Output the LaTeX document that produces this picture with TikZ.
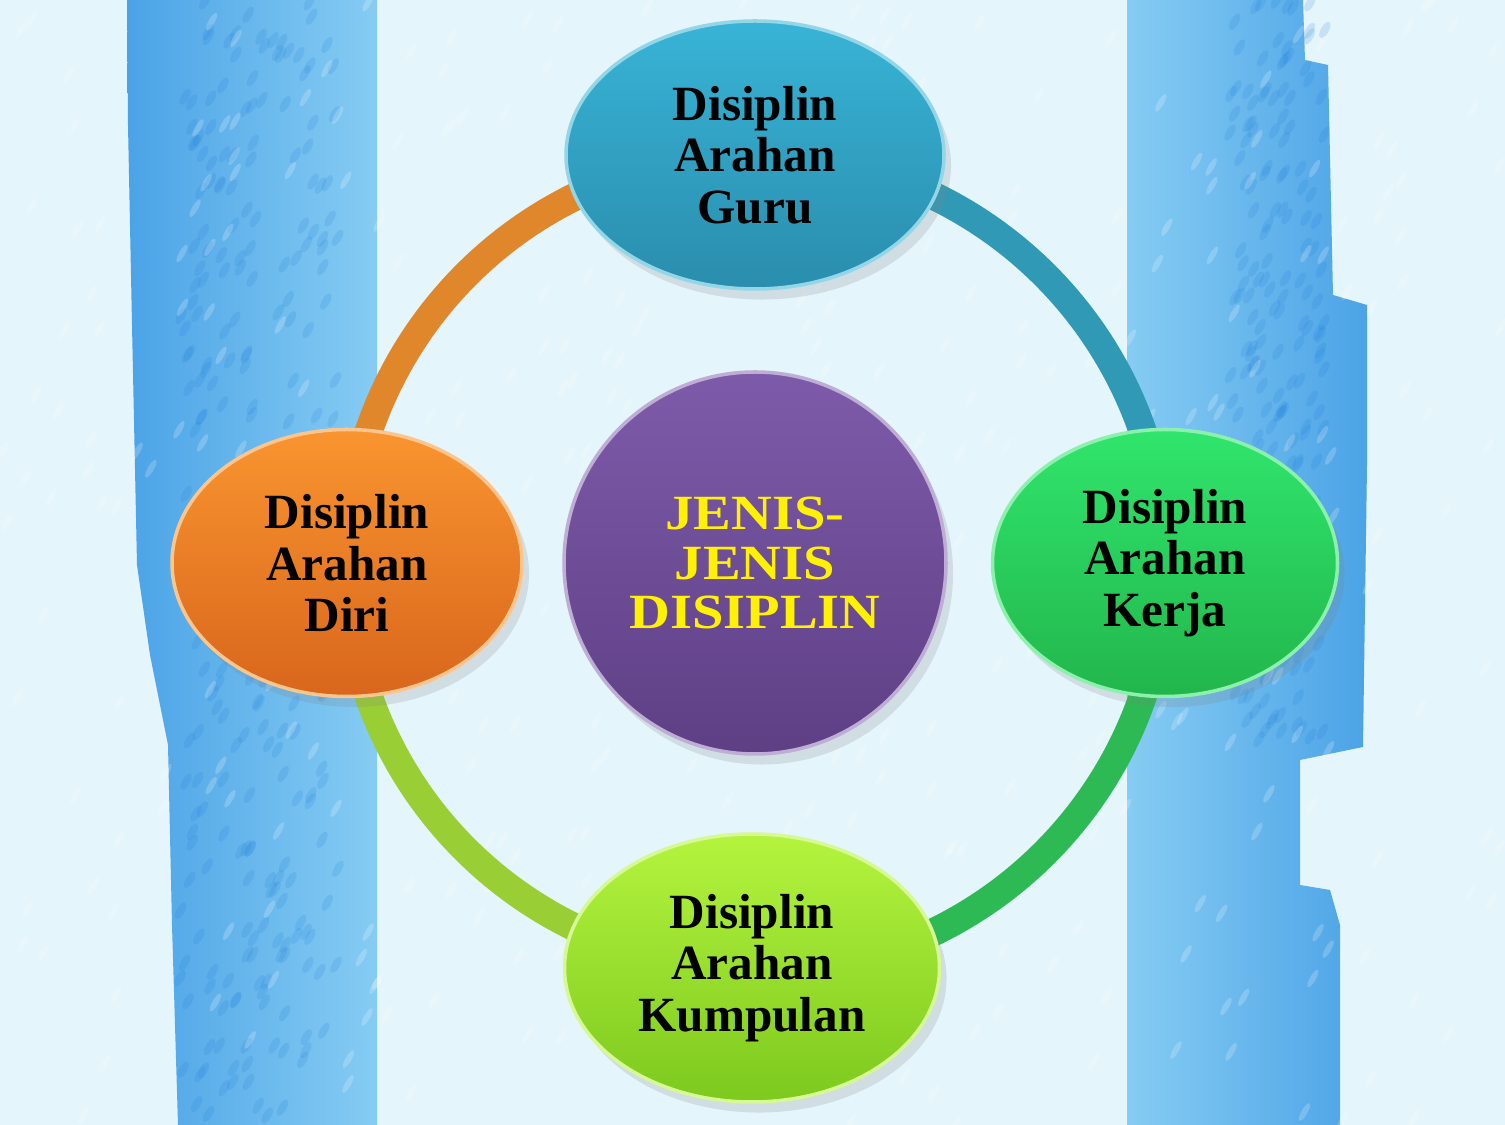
\documentclass[tikz,border=0pt]{standalone}
\usepackage{fontspec}
\setmainfont{Liberation Serif}
\newfontfamily\hubfont[FakeStretch=1.15]{Liberation Serif}
\usetikzlibrary{shapes.geometric,shadows}
\definecolor{skybg}{HTML}{E4F5FB}
\definecolor{bandlo}{HTML}{4BA3E6}
\definecolor{bandhi}{HTML}{86CCF3}
\definecolor{bandspot}{HTML}{1F7ED8}
\definecolor{gurutop}{HTML}{38B4D6}
\definecolor{gurubot}{HTML}{2A8DAD}
\definecolor{kerjatop}{HTML}{30E56C}
\definecolor{kerjabot}{HTML}{22B64C}
\definecolor{kumptop}{HTML}{B4F43E}
\definecolor{kumpbot}{HTML}{7DC91E}
\definecolor{diritop}{HTML}{F99530}
\definecolor{diribot}{HTML}{D9661C}
\definecolor{jenistop}{HTML}{7E5BAA}
\definecolor{jenisbot}{HTML}{5E3F84}
\pgfdeclarelayer{bg}
\pgfdeclarelayer{ring}
\pgfsetlayers{bg,ring,main}

\begin{document}
\begin{tikzpicture}[
        x=0.1mm, y=0.1mm,
        bubble/.style 2 args={ellipse, inner sep=0pt, align=center,
            top color=#1, bottom color=#2, draw=#1!55!white, line width=1pt,
            drop shadow={opacity=0.2, shadow xshift=2pt, shadow yshift=-3pt},
            font=\fontsize{14}{14.7}\selectfont\bfseries, text=black},
        hub/.style={circle, inner sep=0pt, minimum size=3.82cm, align=center,
            top color=jenistop, bottom color=jenisbot, draw=jenistop!50!white, line width=1pt,
            drop shadow={opacity=0.2, shadow xshift=2pt, shadow yshift=-3pt},
            font=\hubfont\fontsize{14}{14.2}\selectfont\bfseries, text=yellow},
        ringarc/.style={line width=2.8mm, draw=#1}
    ]

    \useasboundingbox (0,0) rectangle (1505,1125);

    % background with the two painted bands
    \begin{pgfonlayer}{bg}
    \fill[skybg] (0,0) rectangle (1505,1125);
    \shade[left color=bandlo, right color=bandhi]
        (127,1125) -- (377,1125) -- (377,0) -- (178,0) -- (172,200) -- (168,380)
        -- (150,470) -- (137,560) -- (132,800) -- (128,1000) -- cycle;
    \shade[left color=bandhi, right color=bandlo]
        (1127,1125) -- (1303,1125) -- (1305,1065) -- (1328,1060) -- (1333,830) -- (1367,820)
        -- (1367,660) -- (1363,378) -- (1300,365) -- (1300,240) -- (1330,235) -- (1340,200)
        -- (1340,0) -- (1127,0) -- cycle;
    \pgfmathsetseed{7}
    \foreach \i in {1,...,260} {
        \pgfmathsetmacro\px{180+160*rnd}
        \pgfmathsetmacro\py{1125*rnd}
        \fill[bandspot, opacity=0.16, rotate around={60:(\px,\py)}] (\px,\py) ellipse[x radius=9, y radius=4];
    }
    \foreach \i in {1,...,200} {
        \pgfmathsetmacro\px{1230+95*rnd}
        \pgfmathsetmacro\py{380+745*rnd}
        \fill[bandspot, opacity=0.16, rotate around={60:(\px,\py)}] (\px,\py) ellipse[x radius=9, y radius=4];
    }
    \foreach \i in {1,...,400} {
        \pgfmathsetmacro\px{1505*rnd}
        \pgfmathsetmacro\py{1125*rnd}
        \fill[white, opacity=0.2, rotate around={60:(\px,\py)}] (\px,\py) ellipse[x radius=10, y radius=3];
    }
    \end{pgfonlayer}

    % nodes
    \node[hub] (jenis) at (755,562) {JENIS-\\JENIS\\DISIPLIN};
    \node[bubble={gurutop}{gurubot}, minimum width=3.78cm, minimum height=2.68cm]
        (guru) at (755,970) {Disiplin\\Arahan\\Guru};
    \node[bubble={kerjatop}{kerjabot}, minimum width=3.45cm, minimum height=2.67cm]
        (kerja) at (1165,562) {Disiplin\\Arahan\\Kerja};
    \node[bubble={kumptop}{kumpbot}, minimum width=3.75cm, minimum height=2.68cm]
        (kumpulan) at (752,157) {Disiplin\\Arahan\\Kumpulan};
    \node[bubble={diritop}{diribot}, minimum width=3.5cm, minimum height=2.67cm]
        (diri) at (347,562) {Disiplin\\Arahan\\Diri};

    % ring between the bubbles
    \begin{pgfonlayer}{ring}
    \draw[ringarc=diritop!90!black] (diri.center) arc[start angle=180, end angle=90, radius=4.08cm];
    \draw[ringarc=gurutop!85!black] (guru.center) arc[start angle=90, end angle=0, radius=4.1cm];
    \draw[ringarc=kerjabot!95!white] (kerja.center) arc[start angle=0, end angle=-90, radius=4.1cm];
    \draw[ringarc=kumptop!85!black] (kumpulan.center) arc[start angle=-90, end angle=-180, radius=4.06cm];
    \end{pgfonlayer}

\end{tikzpicture}
\end{document}
